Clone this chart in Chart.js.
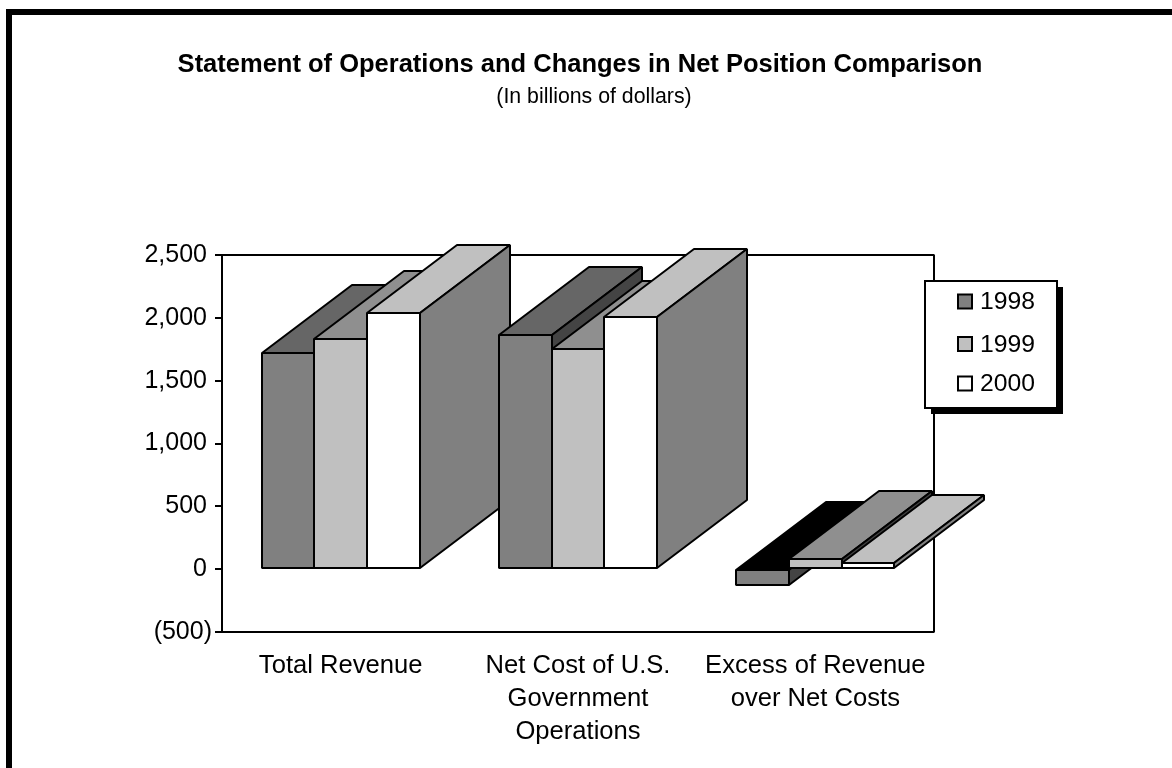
<!DOCTYPE html>
<html>
<head>
<meta charset="utf-8">
<title>Statement of Operations</title>
<script src="https://cdn.jsdelivr.net/npm/chart.js@4"></script>
<style>
  html, body { margin: 0; background: #fff; overflow: hidden; }
  #frame { position: absolute; left: 6px; top: 9px; right: 0; bottom: 0; border-left: 6px solid #000; border-top: 6px solid #000; }
  canvas { position: absolute; left: 0; top: 0; }
</style>
</head>
<body>
<div id="frame"></div>
<canvas id="chart" width="1172" height="768"></canvas>
<script>
const categories = ["Total Revenue", ["Net Cost of U.S.", "Government", "Operations"], ["Excess of Revenue", "over Net Costs"]];
const years = ["1998", "1999", "2000"];
const values1998 = [1722, 1866, -128];
const values1999 = [1834, 1754, 80];
const values2000 = [2041, 2010, 50];
const subtitle = "(In billions of dollars)";

const frontColors = ["#808080", "#c0c0c0", "#ffffff"];
const topColors = ["#666666", "#8f8f8f", "#c0c0c0"];
const sideColors = ["#444444", "#404040", "#808080"];
const depthX = 90;
const depthY = -68;
const FONT = "'Liberation Sans', Arial, sans-serif";

function face(ctx, pts, fill) {
  ctx.beginPath();
  ctx.moveTo(pts[0][0], pts[0][1]);
  pts.slice(1).forEach((p) => ctx.lineTo(p[0], p[1]));
  ctx.closePath();
  ctx.fillStyle = fill;
  ctx.fill();
  ctx.stroke();
}

// bars have a 3D look, so draw them ourselves group by group
const bars3d = {
  id: "bars3d",
  beforeDatasetsDraw(chart) {
    const ctx = chart.ctx;
    const area = chart.chartArea;

    ctx.save();
    ctx.strokeStyle = "#000";
    ctx.lineWidth = 2;
    ctx.lineJoin = "bevel";
    ctx.strokeRect(area.left, area.top, area.right - area.left, area.bottom - area.top);

    categories.forEach((cat, j) => {
      chart.data.datasets.forEach((ds, i) => {
        const bar = chart.getDatasetMeta(i).data[j];
        const half = bar.width / 2;
        const l = Math.round(bar.x - half);
        const r = Math.round(bar.x + half);
        const negative = ds.data[j] < 0;
        const t = Math.round(Math.min(bar.y, bar.base));
        const b = Math.round(Math.max(bar.y, bar.base));
        face(ctx, [[l, t], [l + depthX, t + depthY], [r + depthX, t + depthY], [r, t]], negative ? "#000000" : topColors[i]);
        face(ctx, [[r, t], [r + depthX, t + depthY], [r + depthX, b + depthY], [r, b]], sideColors[i]);
        face(ctx, [[l, t], [r, t], [r, b], [l, b]], frontColors[i]);
      });
    });
    ctx.restore();
    return false;
  },
  afterDraw(chart) {
    const ctx = chart.ctx;
    const rows = [301.5, 344, 383.5];

    ctx.save();
    ctx.fillStyle = "#000";
    ctx.font = "21.3px " + FONT;
    ctx.textAlign = "center";
    ctx.textBaseline = "middle";
    ctx.fillText(subtitle, 594, 97);
    ctx.textAlign = "left";

    ctx.fillRect(931, 287, 132, 127);
    ctx.fillStyle = "#fff";
    ctx.fillRect(925, 281, 132, 127);
    ctx.strokeStyle = "#000";
    ctx.lineWidth = 2;
    ctx.strokeRect(925, 281, 132, 127);

    ctx.font = "24.7px " + FONT;
    chart.data.datasets.forEach((ds, i) => {
      ctx.fillStyle = frontColors[i];
      ctx.fillRect(958, rows[i] - 7, 14, 14);
      ctx.strokeRect(958, rows[i] - 7, 14, 14);
      ctx.fillStyle = "#000";
      ctx.fillText(ds.label, 980, rows[i] + 1);
    });
    ctx.restore();
  },
};

new Chart(document.getElementById("chart"), {
  type: "bar",
  data: {
    labels: categories,
    datasets: [
      { label: years[0], data: values1998, backgroundColor: frontColors[0] },
      { label: years[1], data: values1999, backgroundColor: frontColors[1] },
      { label: years[2], data: values2000, backgroundColor: frontColors[2] },
    ],
  },
  plugins: [bars3d],
  options: {
    responsive: false,
    animation: false,
    layout: { padding: { right: 12 } },
    datasets: { bar: { categoryPercentage: 0.667, barPercentage: 1 } },
    plugins: {
      legend: { display: false },
      tooltip: { enabled: false },
      title: {
        display: true,
        text: "Statement of Operations and Changes in Net Position Comparison",
        color: "#000",
        font: { family: FONT, size: 25.5, weight: "bold" },
        padding: { top: 50, bottom: 174.4 },
      },
    },
    scales: {
      x: {
        afterFit(scale) { scale.height = 136; },
        grid: { display: false },
        border: { display: false },
        ticks: {
          color: "#000",
          autoSkip: false,
          maxRotation: 0,
          padding: 9,
          font: { family: FONT, size: 25.6, lineHeight: 1.3 },
        },
      },
      y: {
        min: -500,
        max: 2500,
        afterFit(scale) { scale.width = 222; },
        grid: { drawOnChartArea: false, color: "#000", lineWidth: 2, tickLength: 7 },
        border: { display: false },
        ticks: {
          stepSize: 500,
          color: "#000",
          padding: 3,
          font: { family: FONT, size: 25 },
          // positive numbers leave room for the closing bracket
          callback(v) {
            return v < 0 ? "(" + Math.abs(v).toLocaleString("en-US") + ")" : v.toLocaleString("en-US") + "\u2009";
          },
        },
      },
      // empty axis, only keeps room for the legend on the right
      y2: {
        position: "right",
        afterFit(scale) { scale.width = 226; },
        grid: { display: false },
        border: { display: false },
        ticks: { display: false },
      },
    },
  },
});
</script>
</body>
</html>
